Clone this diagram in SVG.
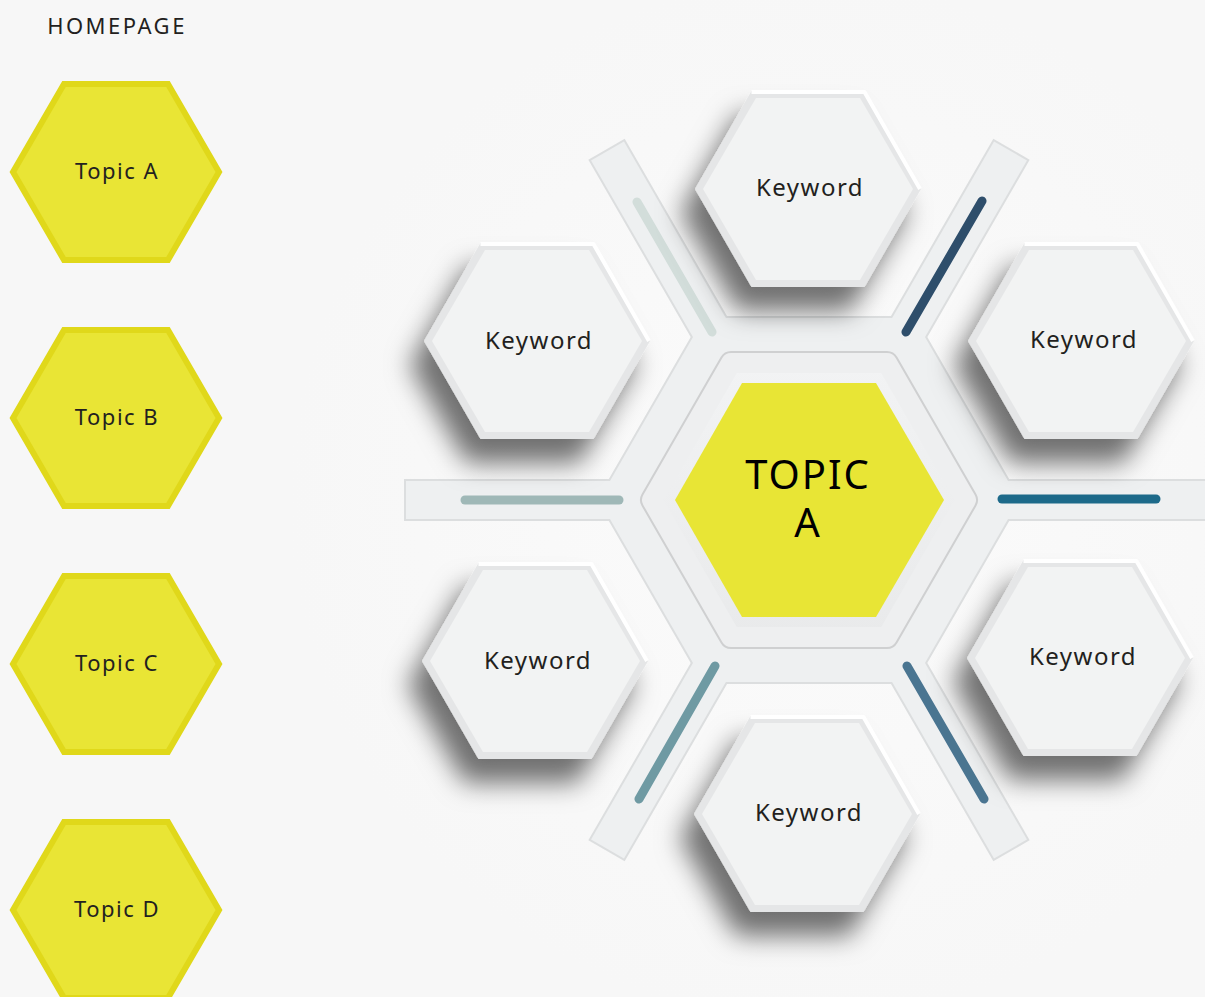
<svg xmlns="http://www.w3.org/2000/svg" width="1205" height="997" viewBox="0 0 1205 997">
<defs>
<style>
.bg{fill:#f7f7f7}
.topic polygon{fill:#e9e535;stroke:#e0d81a;stroke-width:6;stroke-linejoin:miter}
.lbl{font-family:"Noto Sans","Liberation Sans",sans-serif;fill:#231f20;text-anchor:middle}
.kw{font-size:24px;letter-spacing:1.5px}
.tp{font-size:22px;letter-spacing:1.5px}
.hp{font-size:22px;letter-spacing:2.5px}
.big{font-size:40px;letter-spacing:2px;fill:#000}
.arm-s{fill:none;stroke:#dcdedf;stroke-width:4}
.arm-f{fill:#eef0f1}
.seg{stroke-width:9;stroke-linecap:round;fill:none}
.kout{fill:#e5e6e7}
.kin{fill:#f2f3f3}
.khi{fill:none;stroke:#ffffff;stroke-width:4;stroke-linejoin:round}
</style>
<filter id="sh" x="-50%" y="-50%" width="200%" height="200%">
<feDropShadow dx="-14" dy="24" stdDeviation="13" flood-color="#000" flood-opacity="0.55"/>
</filter>
<radialGradient id="glow" cx="809" cy="500" r="520" gradientUnits="userSpaceOnUse">
<stop offset="0" stop-color="#fbfbfb"/>
<stop offset="1" stop-color="#f7f7f7"/>
</radialGradient>
<linearGradient id="ring" x1="0" y1="0" x2="0" y2="1">
<stop offset="0" stop-color="#f2f3f4"/>
<stop offset="1" stop-color="#e9eaeb"/>
</linearGradient>
<g id="khex">
<polygon class="kout" points="-113,0 -56.5,-98 56.5,-98 113,0 56.5,98 -56.5,98" filter="url(#sh)"/>
<polygon class="kin" points="-105,0 -52,-91 52,-91 105,0 52,91 -52,91"/>
<polyline class="khi" points="-56.5,-97 56.5,-97 112,0"/>
</g>
<g id="armshape">
<rect x="0" y="-19" width="403" height="38"/>
</g>
</defs>
<rect class="bg" width="1205" height="997"/>
<rect width="1205" height="997" fill="url(#glow)"/>

<text class="lbl hp" x="117" y="34">HOMEPAGE</text>

<g id="topic-a" class="topic"><polygon points="13,172 64,84 168,84 219,172 168,260 64,260"/><text class="lbl tp" x="117" y="179">Topic A</text></g>
<g id="topic-b" class="topic"><polygon points="13,418 64,330 168,330 219,418 168,506 64,506"/><text class="lbl tp" x="117" y="425">Topic B</text></g>
<g id="topic-c" class="topic"><polygon points="13,664 64,576 168,576 219,664 168,752 64,752"/><text class="lbl tp" x="117" y="671">Topic C</text></g>
<g id="topic-d" class="topic"><polygon points="13,910 64,822 168,822 219,910 168,998 64,998"/><text class="lbl tp" x="117" y="917">Topic D</text></g>

<g id="hub-frame" transform="translate(809,500)">
<g class="arm-s">
<polygon points="-210,0 -105,-182 105,-182 210,0 105,182 -105,182"/>
<use href="#armshape" transform="rotate(0)"/>
<use href="#armshape" transform="rotate(60)"/>
<use href="#armshape" transform="rotate(120)"/>
<use href="#armshape" transform="rotate(180)"/>
<use href="#armshape" transform="rotate(240)"/>
<use href="#armshape" transform="rotate(300)"/>
</g>
<g class="arm-f">
<polygon points="-210,0 -105,-182 105,-182 210,0 105,182 -105,182"/>
<use href="#armshape" transform="rotate(0)"/>
<use href="#armshape" transform="rotate(60)"/>
<use href="#armshape" transform="rotate(120)"/>
<use href="#armshape" transform="rotate(180)"/>
<use href="#armshape" transform="rotate(240)"/>
<use href="#armshape" transform="rotate(300)"/>
</g>
</g>

<g id="connectors">
<line class="seg" stroke="#9fb8b7" x1="465" y1="500" x2="619" y2="500"/>
<line class="seg" stroke="#1d6a8a" x1="1002" y1="499" x2="1156" y2="499"/>
<line class="seg" stroke="#2e4e6b" x1="906" y1="332" x2="982" y2="201"/>
<line class="seg" stroke="#d2ddda" x1="712" y1="332" x2="637" y2="202"/>
<line class="seg" stroke="#6f9aa3" x1="715" y1="666" x2="639" y2="799"/>
<line class="seg" stroke="#4a7591" x1="907" y1="666" x2="984" y2="799"/>
</g>

<g id="topic-center">
<polygon points="652,500 731,363 887,363 966,500 887,637 731,637" fill="#cfd0d1" stroke="#cfd0d1" stroke-width="24" stroke-linejoin="round"/>
<polygon points="652,500 731,363 887,363 966,500 887,637 731,637" fill="url(#ring)" stroke="#eeeff0" stroke-width="20" stroke-linejoin="round"/>
<polygon points="675,500 742,383 876,383 944,500 876,617 742,617" fill="#e8e535"/>
<text class="lbl big" x="808" y="489">TOPIC</text>
<text class="lbl big" x="808" y="537">A</text>
</g>

<g id="kw-top"><use href="#khex" transform="translate(808,189)"/><text class="lbl kw" x="810" y="196">Keyword</text></g>
<g id="kw-upper-left"><use href="#khex" transform="translate(537,341)"/><text class="lbl kw" x="539" y="349">Keyword</text></g>
<g id="kw-upper-right"><use href="#khex" transform="translate(1081,341)"/><text class="lbl kw" x="1084" y="348">Keyword</text></g>
<g id="kw-lower-left"><use href="#khex" transform="translate(535,661)"/><text class="lbl kw" x="538" y="669">Keyword</text></g>
<g id="kw-lower-right"><use href="#khex" transform="translate(1080,658)"/><text class="lbl kw" x="1083" y="665">Keyword</text></g>
<g id="kw-bottom"><use href="#khex" transform="translate(807,814)"/><text class="lbl kw" x="809" y="821">Keyword</text></g>
</svg>
